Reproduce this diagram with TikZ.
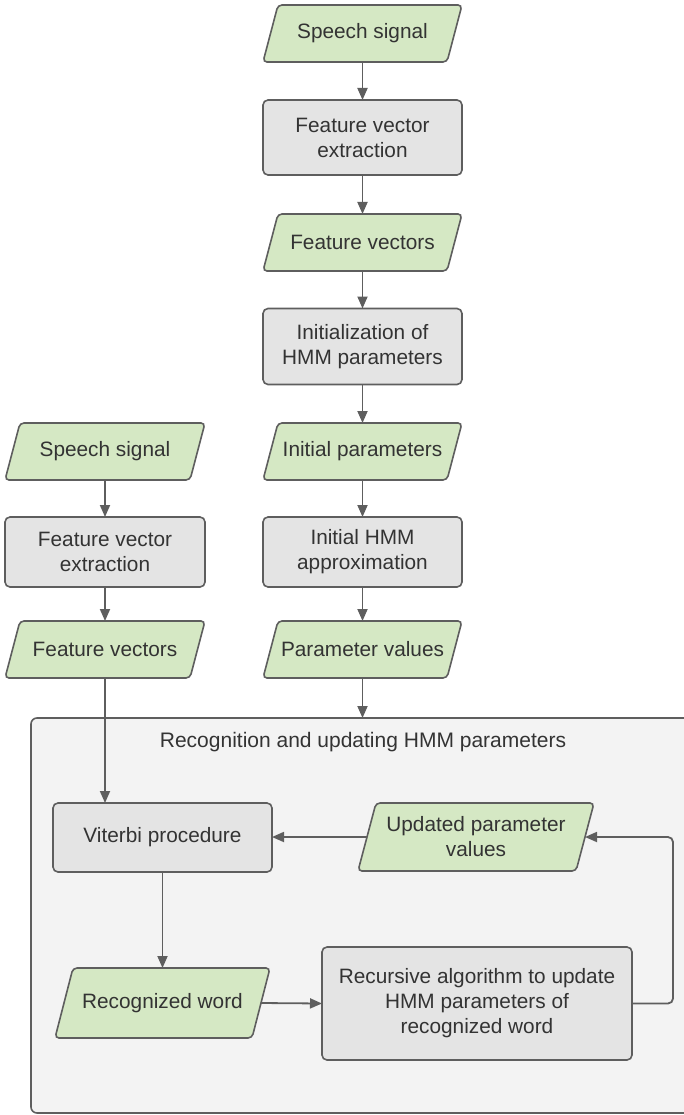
\documentclass[tikz,border=0pt]{standalone}
\usepackage{fontspec}
\setmainfont{Liberation Sans}
\usetikzlibrary{arrows.meta,calc}
\definecolor{edge}{HTML}{5E5E5E}
\definecolor{greenfill}{HTML}{D5E8C4}
\definecolor{grayfill}{HTML}{E4E4E4}
\definecolor{contfill}{HTML}{F3F3F3}
\definecolor{txt}{HTML}{333333}
\pgfdeclarelayer{contlayer}
\pgfdeclarelayer{shapelayer}
\pgfsetlayers{contlayer,shapelayer,main}
\tikzset{
  base/.style={text=txt, inner sep=0pt, outer sep=0pt,
    font=\fontsize{20.8}{25}\selectfont, align=center},
  io/.style={base, rectangle},
  proc/.style={base, rectangle, draw=edge, line width=1.6pt, fill=grayfill, rounded corners=5pt},
  iofill/.style={draw=edge, line width=1.6pt, fill=greenfill, rounded corners=4pt},
  contbox/.style={draw=edge, line width=1.6pt, fill=contfill, rounded corners=6pt,
    rectangle, inner sep=0pt, outer sep=0pt},
  conn/.style={draw=edge, line width=1.8pt, -{Triangle[length=12pt,width=10pt]}}
}
% parallelogram outline behind an io node: #1 node name, #2 slant
\newcommand\iopath[2]{%
  \begin{pgfonlayer}{shapelayer}
  \draw[iofill] (#1.south west) -- ($(#1.north west)+(#2,0)$) -- (#1.north east)
     -- ($(#1.south east)+(-#2,0)$) -- cycle;
  \end{pgfonlayer}}
\begin{document}
\begin{tikzpicture}[x=1pt,y=-1pt]
\useasboundingbox (0,0) rectangle (684,1115);
% container
\begin{pgfonlayer}{contlayer}
\node[contbox, minimum width=689pt, minimum height=395pt] (cont) at (375.5,915.5) {};
\end{pgfonlayer}
\node[text=txt, font=\fontsize{21}{25}\selectfont] (title) at (363,742) {Recognition and updating HMM parameters};
% right column
\node[io, minimum width=199pt, minimum height=57pt] (ss1) at (362.5,33.5) {Speech signal};
\iopath{ss1}{15}
\node[proc, minimum width=199pt, minimum height=75pt] (fve1) at (362.5,137.5) {Feature vector\\extraction};
\node[io, minimum width=199pt, minimum height=57pt] (fv1) at (362.5,242.5) {Feature vectors};
\iopath{fv1}{15}
\node[proc, minimum width=199pt, minimum height=76pt] (init) at (362.5,346.5) {Initialization of\\HMM parameters};
\node[io, minimum width=199pt, minimum height=57pt] (ip) at (362.5,451.5) {Initial parameters};
\iopath{ip}{15}
\node[proc, minimum width=199pt, minimum height=70pt] (iha) at (362.5,552) {Initial HMM\\approximation};
\node[io, minimum width=199pt, minimum height=57pt] (pv) at (362.5,649.5) {Parameter values};
\iopath{pv}{15}
% left column
\node[io, minimum width=200pt, minimum height=57pt] (ss2) at (105,451.5) {Speech signal};
\iopath{ss2}{15}
\node[proc, minimum width=200pt, minimum height=70pt] (fve2) at (105,552) {Feature vector\\extraction};
\node[io, minimum width=200pt, minimum height=57pt] (fv2) at (105,649.5) {Feature vectors};
\iopath{fv2}{15}
% inside container
\node[proc, minimum width=219pt, minimum height=69pt] (vit) at (162.5,837.5) {Viterbi procedure};
\node[io, minimum width=236pt, minimum height=68pt] (up) at (476,837) {Updated parameter\\values};
\iopath{up}{18}
\node[io, minimum width=215pt, minimum height=70pt] (rw) at (162.5,1003) {Recognized word};
\iopath{rw}{18}
\node[proc, minimum width=310pt, minimum height=113pt] (rec) at (477,1003.5) {Recursive algorithm to update\\HMM parameters of\\recognized word};
% connectors
\draw[conn] (ss1) -- (fve1);
\draw[conn] (fve1) -- (fv1);
\draw[conn] (fv1) -- (init);
\draw[conn] (init) -- (ip);
\draw[conn] (ip) -- (iha);
\draw[conn] (iha) -- (pv);
\draw[conn] (pv.south) -- (pv.south |- cont.north);
\draw[conn] (ss2) -- (fve2);
\draw[conn] (fve2) -- (fv2);
\draw[conn] (fv2.south) -- (fv2.south |- vit.north);
\draw[conn] (vit) -- (rw);
\draw[conn] ($(rw.east)+(-9,0)$) -- (rec.west);
\coordinate (c1) at (673,1003.5);
\coordinate (c2) at (673,837);
\draw[conn, rounded corners=5pt] (rec.east) -- (c1) -- (c2) -- ($(up.east)+(-9,0)$);
\draw[conn] ($(up.west)+(9,0)$) -- (vit.east |- up.west);
\end{tikzpicture}
\end{document}
